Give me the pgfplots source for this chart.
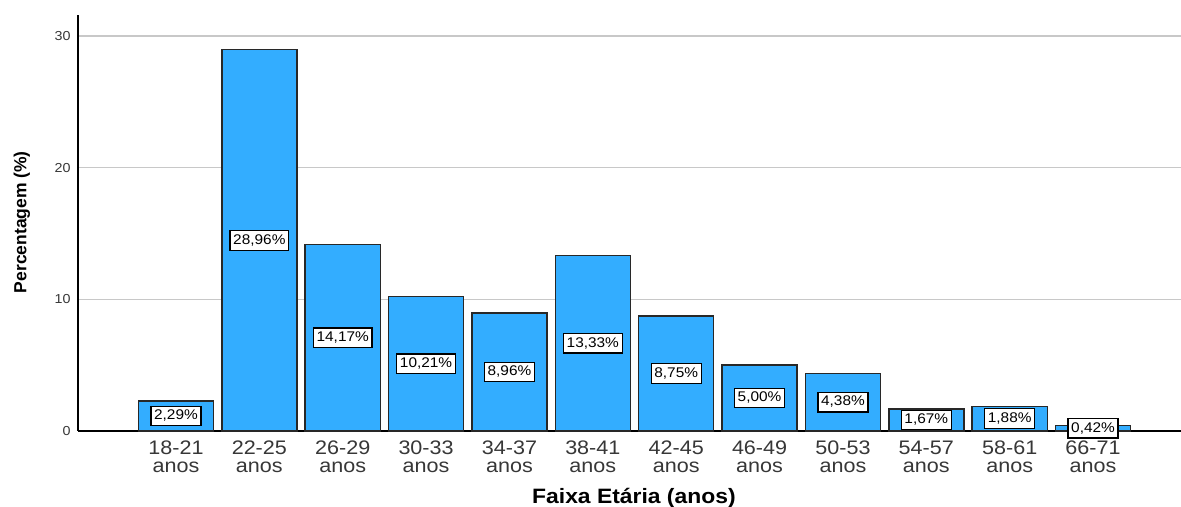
\documentclass[border=0pt]{standalone}
\usepackage{fontspec}
\setmainfont{Liberation Sans}[FakeStretch=1.1]
\newfontfamily\titlefont{Liberation Sans}
\usepackage{pgfplots}
\usepackage{pgfplotstable}
\pgfplotsset{compat=1.18}

\definecolor{barblue}{RGB}{51,173,255}
\definecolor{baredge}{RGB}{40,40,40}
\definecolor{labelgray}{RGB}{55,55,55}
\definecolor{gridgray}{RGB}{200,200,200}

% Percentage of respondents per age group
\pgfplotstableread{
idx pct
0  2.29
1  28.96
2  14.17
3  10.21
4  8.96
5  13.33
6  8.75
7  5.00
8  4.38
9  1.67
10 1.88
11 0.42
}\agedata

\begin{document}
\begin{tikzpicture}
\useasboundingbox (0,0) rectangle (590.5pt,253.5pt);
\begin{axis}[
  at={(39pt,38pt)}, anchor=south west,
  scale only axis,
  width=551.5pt, height=208pt,
  xmin=-1.175, xmax=12.055,
  ymin=0, ymax=31.6,
  axis lines=left,
  axis line style={-, line width=0.75pt, black},
  /pgf/number format/assume math mode=true,
  xtick={0,...,11},
  xticklabels={18-21\\anos,22-25\\anos,26-29\\anos,30-33\\anos,34-37\\anos,38-41\\anos,
               42-45\\anos,46-49\\anos,50-53\\anos,54-57\\anos,58-61\\anos,66-71\\anos},
  ytick={0,10,20,30},
  major tick length=0pt,
  ymajorgrids,
  major grid style={gridgray, line width=0.6pt},
  xticklabel style={align=center, anchor=north, inner sep=0pt, yshift=-4.6pt,
    font=\fontsize{9.8}{9.3}\selectfont, text=labelgray},
  yticklabel style={anchor=east, inner sep=0pt, xshift=-3.5pt,
    font=\fontsize{6.5}{7}\selectfont, text=labelgray},
  xlabel={Faixa Etária (anos)},
  xlabel style={at={(axis description cs:0.504,-0.1372)}, anchor=north, inner sep=0pt,
    font=\fontsize{10.4}{12}\selectfont\bfseries, text=black},
  ylabel={\titlefont Percentagem (\%)},
  ylabel style={at={(axis description cs:-0.0508,0.502)}, rotate=0, anchor=center,
    inner sep=0pt, font=\fontsize{8.75}{10}\selectfont\bfseries, text=black},
  clip=false,
]
\addplot[ybar, bar width=0.9, fill=barblue, draw=baredge, line width=0.7pt]
  table[x=idx, y=pct] {\agedata};
% value boxes at mid-height of each bar
\addplot[draw=none, mark=none,
  nodes near coords={\pgfmathprintnumber[fixed, fixed zerofill, precision=2, use comma]{\pgfplotspointmeta}\%},
  point meta=explicit,
  every node near coord/.style={anchor=center, fill=white, draw=black, line width=0.6pt,
    inner xsep=1.6pt, inner ysep=1.7pt, text height=5.1pt, text depth=1.3pt,
    font=\fontsize{7}{8}\selectfont, text=black},
] table[x=idx, y expr=\thisrow{pct}/2, meta=pct] {\agedata};
\end{axis}
\end{tikzpicture}
\end{document}
